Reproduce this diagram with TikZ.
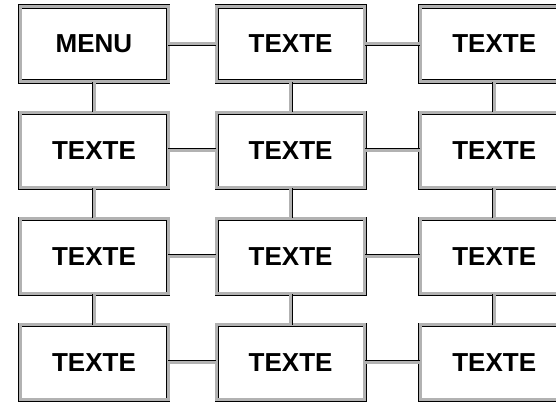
\documentclass[tikz,border=0pt]{standalone}
\usepackage{fontspec}
\setmainfont{Liberation Sans}
\usepackage{xcolor}
\usetikzlibrary{positioning}

\begin{document}
\begin{tikzpicture}[
	font=\fontsize{26}{28}\selectfont\bfseries,
	node distance=30.5pt and 48pt,
	box/.style={
		draw=black,
		rectangle,
		line width=0.6pt,
		double=gray!60,
		double distance=3pt,
		align=center,
		minimum width=148pt,
		minimum height=75pt,
		inner sep=4pt
	},
	link/.style={draw=black, line width=0.6pt, double=gray!60, double distance=3pt}
	]
	
	\useasboundingbox (0,0) rectangle (556pt,-404pt);
	
	% Fila 1
	\node[box] (menu) at (94pt,-44pt) {MENU};
	\node[box, right=of menu] (t12) {TEXTE};
	\node[box, right=55pt of t12] (t13) {TEXTE};
	
	% Fila 2
	\node[box, below=of menu] (t21) {TEXTE};
	\node[box, below=of t12] (t22) {TEXTE};
	\node[box, below=of t13] (t23) {TEXTE};
	
	% Fila 3
	\node[box, below=of t21] (t31) {TEXTE};
	\node[box, below=of t22] (t32) {TEXTE};
	\node[box, below=of t23] (t33) {TEXTE};
	
	% Fila 4
	\node[box, below=of t31] (t41) {TEXTE};
	\node[box, below=of t32] (t42) {TEXTE};
	\node[box, below=of t33] (t43) {TEXTE};
	
	% Enlaces horizontales
	\draw[link] (menu) -- (t12);
	\draw[link] (t12) -- (t13);
	\draw[link] (t21) -- (t22);
	\draw[link] (t22) -- (t23);
	\draw[link] (t31) -- (t32);
	\draw[link] (t32) -- (t33);
	\draw[link] (t41) -- (t42);
	\draw[link] (t42) -- (t43);
	
	% Enlaces verticales
	\draw[link] (menu) -- (t21);
	\draw[link] (t21) -- (t31);
	\draw[link] (t31) -- (t41);
	\draw[link] (t12) -- (t22);
	\draw[link] (t22) -- (t32);
	\draw[link] (t32) -- (t42);
	\draw[link] (t13) -- (t23);
	\draw[link] (t23) -- (t33);
	\draw[link] (t33) -- (t43);
	
\end{tikzpicture}
\end{document}
